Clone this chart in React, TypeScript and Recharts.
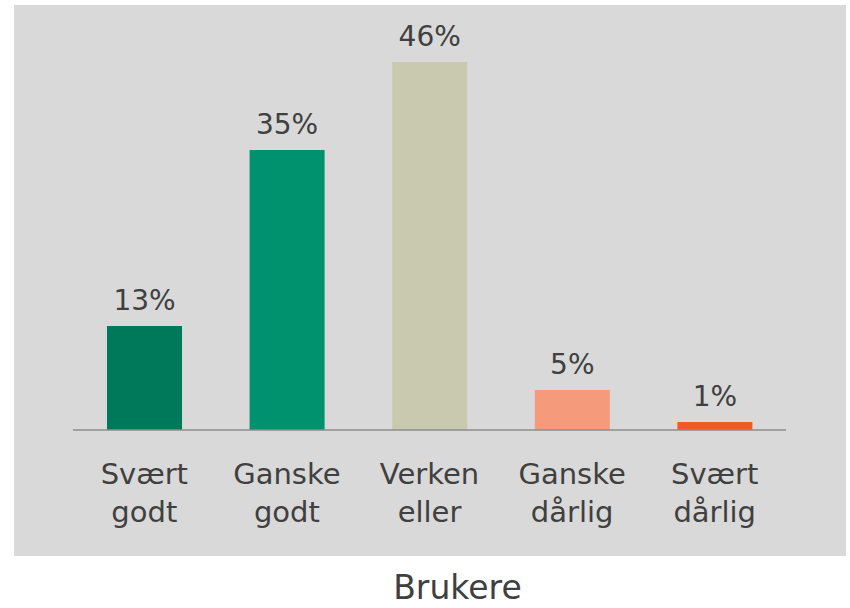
import React from 'react';
import { BarChart, Bar, XAxis, YAxis, Cell, LabelList } from 'recharts';

const categories = ['Svært godt', 'Ganske godt', 'Verken eller', 'Ganske dårlig', 'Svært dårlig'];
const values = [13, 35, 46, 5, 1];
const colors = ['#00785A', '#00916E', '#C9C9B0', '#F59A7B', '#F05A28'];
const title = 'Brukere';

const data = categories.map((c, i) => ({ name: c, value: values[i] }));

const FONT = '"DejaVu Sans", sans-serif';
const TEXT = '#404040';

const Tick = (props: any) => {
  const { x, y, payload } = props;
  const words = String(payload.value).split(' ');
  return (
    <text x={x} y={y} textAnchor="middle" fill={TEXT} fontFamily={FONT} fontSize={29}>
      {words.map((w, i) => (
        <tspan key={i} x={x} dy={i === 0 ? 46 : 38}>{w}</tspan>
      ))}
    </text>
  );
};

const ValueLabel = (props: any) => {
  const { x, y, width, value } = props;
  return (
    <text x={x + width / 2} y={y - 16} textAnchor="middle" fill={TEXT} fontFamily={FONT} fontSize={28}>
      {value}%
    </text>
  );
};

export default function App() {
  return (
    <div style={{ position: 'absolute', left: 0, top: 0, width: 850, height: 608, background: '#fff' }}>
      <div style={{ position: 'absolute', left: 14, top: 5, width: 832, height: 551, background: '#D9D9D9' }} />
      <div style={{ position: 'absolute', left: 0, top: 0 }}>
        <BarChart width={850} height={608} data={data} margin={{ top: 30, right: 64, bottom: 48, left: 73 }}>
          <YAxis hide domain={[0, 50]} />
          <XAxis
            dataKey="name"
            height={130}
            interval={0}
            tickLine={false}
            axisLine={{ stroke: '#8C8C8C', strokeWidth: 1.5 }}
            tick={<Tick />}
          />
          <Bar dataKey="value" barSize={75} isAnimationActive={false}>
            {data.map((d, i) => (
              <Cell key={d.name} fill={colors[i]} />
            ))}
            <LabelList dataKey="value" content={<ValueLabel />} />
          </Bar>
        </BarChart>
      </div>
      <div
        style={{
          position: 'absolute',
          left: 0,
          width: 915,
          top: 568,
          textAlign: 'center',
          fontFamily: FONT,
          fontSize: 33,
          color: TEXT,
          lineHeight: '40px',
        }}
      >
        {title}
      </div>
    </div>
  );
}
